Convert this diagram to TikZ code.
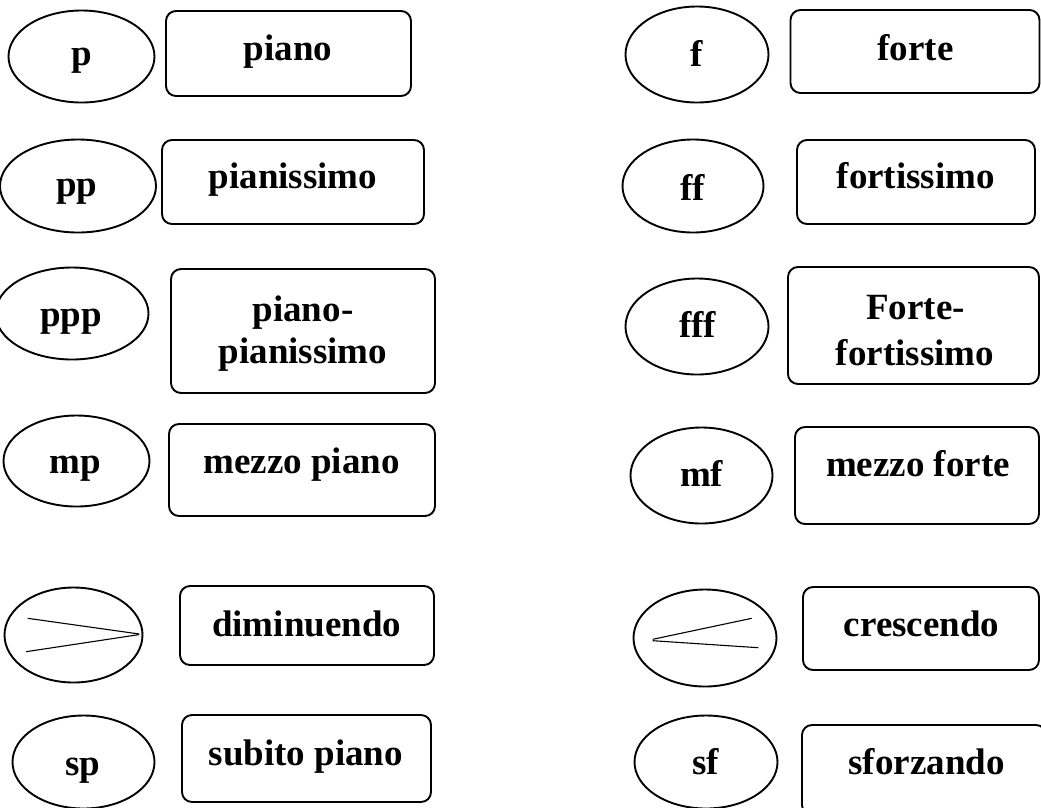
\documentclass[tikz,border=0pt]{standalone}
\usepackage{fontspec}
\setmainfont{Liberation Serif}
\usetikzlibrary{shapes.geometric}

\tikzset{
  oval/.style={draw=black, line width=1.9pt, ellipse, inner sep=0pt, fill=none},
  panel/.style={draw=black, line width=1.9pt, rounded corners=10pt, rectangle, inner sep=0pt},
  word/.style={anchor=base, inner sep=0pt, font=\fontsize{37}{41}\selectfont\bfseries},
  hair/.style={draw=black, line width=1.1pt}
}

\begin{document}
\begin{tikzpicture}[x=1pt, y=-1pt]
  \useasboundingbox (0,0) rectangle (1041,807);

  % ---------- soft dynamics ----------
  \node[oval, minimum width=146pt, minimum height=92pt] (e-p) at (81.5,56.5) {};
  \node[word] (s-p) at (82,65) {p};
  \node[panel, minimum width=245pt, minimum height=85pt] (b-p) at (288.5,53.5) {};
  \node[word] (n-p) at (288,60) {piano};

  \node[oval, minimum width=156pt, minimum height=93pt] (e-pp) at (78,186) {};
  \node[word] (s-pp) at (77,196.5) {pp};
  \node[panel, minimum width=262pt, minimum height=84pt] (b-pp) at (293,182) {};
  \node[word] (n-pp) at (293,188.3) {pianissimo};

  \node[oval, minimum width=153pt, minimum height=92pt] (e-ppp) at (72,313.5) {};
  \node[word] (s-ppp) at (71,326.5) {ppp};
  \node[panel, minimum width=264pt, minimum height=124pt] (b-ppp) at (303,331) {};
  \node[word] (n-ppp-a) at (303,321.7) {piano-};
  \node[word] (n-ppp-b) at (303,363.3) {pianissimo};

  \node[oval, minimum width=146pt, minimum height=91pt] (e-mp) at (76.5,461) {};
  \node[word] (s-mp) at (75,473) {mp};
  \node[panel, minimum width=266pt, minimum height=92pt] (b-mp) at (302,470) {};
  \node[word] (n-mp) at (301.7,473) {mezzo piano};

  % diminuendo hairpin inside its oval
  \node[oval, minimum width=138pt, minimum height=95pt] (e-dim) at (73.5,635) {};
  \draw[hair] (27.7,618.3) -- (139.3,634);
  \draw[hair] (26,651.7) -- (139,634.6);
  \node[panel, minimum width=254pt, minimum height=79pt] (b-dim) at (307,625.5) {};
  \node[word] (n-dim) at (306.7,636) {diminuendo};

  \node[oval, minimum width=142pt, minimum height=93pt] (e-sp) at (83.5,762) {};
  \node[word] (s-sp) at (83,775) {sp};
  \node[panel, minimum width=249pt, minimum height=87pt] (b-sp) at (306.5,758.5) {};
  \node[word] (n-sp) at (305.8,765) {subito piano};

  % ---------- loud dynamics ----------
  \node[oval, minimum width=143pt, minimum height=96pt] (e-f) at (697,54.5) {};
  \node[word] (s-f) at (696.7,66.7) {f};
  \node[panel, minimum width=249pt, minimum height=83pt] (b-f) at (915,51.5) {};
  \node[word] (n-f) at (915.5,60) {forte};

  \node[oval, minimum width=141pt, minimum height=93pt] (e-ff) at (693,186) {};
  \node[word] (s-ff) at (692.5,200) {ff};
  \node[panel, minimum width=238pt, minimum height=84pt] (b-ff) at (916,182) {};
  \node[word] (n-ff) at (915.8,188.3) {fortissimo};

  \node[oval, minimum width=143pt, minimum height=96pt] (e-fff) at (697,326.5) {};
  \node[word] (s-fff) at (697.8,337.3) {fff};
  \node[panel, minimum width=251pt, minimum height=117pt] (b-fff) at (913.5,325.5) {};
  \node[word] (n-fff-a) at (915.5,319.3) {Forte-};
  \node[word] (n-fff-b) at (915,365) {fortissimo};

  \node[oval, minimum width=142pt, minimum height=96pt] (e-mf) at (701.5,475.5) {};
  \node[word] (s-mf) at (701.7,486.7) {mf};
  \node[panel, minimum width=244pt, minimum height=97pt] (b-mf) at (917,475.5) {};
  \node[word] (n-mf) at (918,476.7) {mezzo forte};

  % crescendo hairpin inside its oval
  \node[oval, minimum width=143pt, minimum height=97pt] (e-cre) at (705,638) {};
  \draw[hair] (751.7,618.3) -- (652.7,639.3);
  \draw[hair] (652.7,640.7) -- (758.3,647.7);
  \node[panel, minimum width=236pt, minimum height=83pt] (b-cre) at (921,628.5) {};
  \node[word] (n-cre) at (921.7,636) {crescendo};

  \node[oval, minimum width=143pt, minimum height=93pt] (e-sf) at (706,762) {};
  \node[word] (s-sf) at (705.8,774) {sf};
  \node[panel, minimum width=244pt, minimum height=90pt] (b-sf) at (924,770) {};
  \node[word] (n-sf) at (926.7,774) {sforzando};
\end{tikzpicture}
\end{document}
